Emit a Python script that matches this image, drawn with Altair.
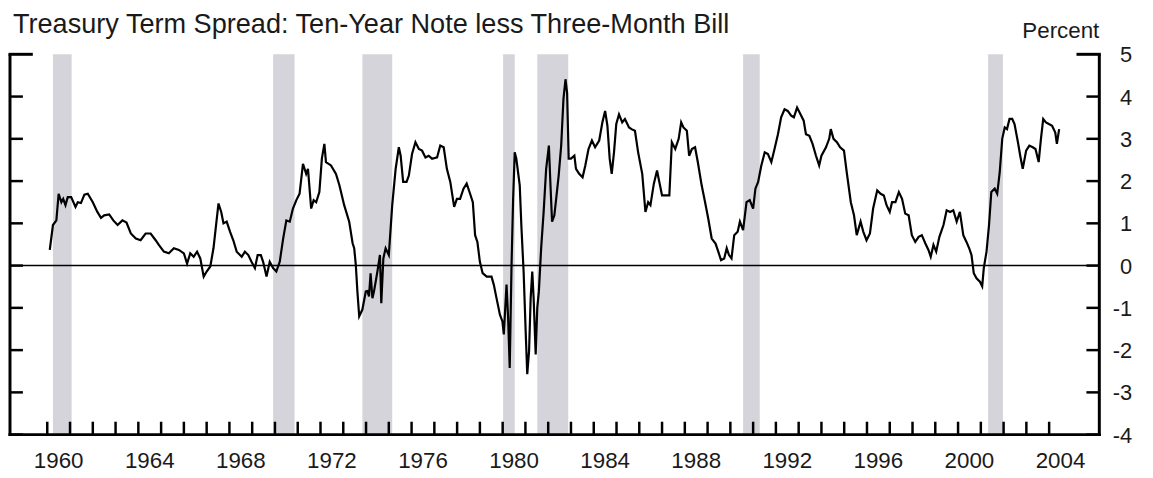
import altair as alt
import pandas as pd

title_text = "Treasury Term Spread: Ten-Year Note less Three-Month Bill"
unit_label = "Percent"

# decimal-year dates and spread values (percent)
dates = [
    1960.11, 1960.25, 1960.40, 1960.50, 1960.62, 1960.70, 1960.80, 1960.90, 1961.05, 1961.24,
    1961.34, 1961.48, 1961.63, 1961.78, 1962.00, 1962.20, 1962.36, 1962.50, 1962.72, 1962.90,
    1963.09, 1963.30, 1963.48, 1963.67, 1963.89, 1964.10, 1964.32, 1964.54, 1964.76, 1964.90,
    1965.12, 1965.34, 1965.56, 1965.78, 1966.00, 1966.14, 1966.28, 1966.43, 1966.58, 1966.72,
    1966.87, 1967.00, 1967.16, 1967.30, 1967.52, 1967.64, 1967.74, 1967.88, 1968.03, 1968.17,
    1968.32, 1968.54, 1968.68, 1968.83, 1968.97, 1969.12, 1969.24, 1969.38, 1969.48, 1969.63,
    1969.77, 1969.92, 1970.06, 1970.21, 1970.36, 1970.50, 1970.65, 1970.79, 1970.94, 1971.08,
    1971.23, 1971.37, 1971.45, 1971.59, 1971.70, 1971.81, 1971.95, 1972.06, 1972.17, 1972.24,
    1972.46, 1972.68, 1972.83, 1973.04, 1973.26, 1973.41, 1973.48, 1973.55, 1973.62, 1973.70,
    1973.84, 1973.99, 1974.06, 1974.13, 1974.20, 1974.28, 1974.35, 1974.50, 1974.61, 1974.67,
    1974.76, 1974.86, 1975.00, 1975.15, 1975.30, 1975.44, 1975.52, 1975.63, 1975.78, 1975.88,
    1976.02, 1976.17, 1976.32, 1976.46, 1976.61, 1976.75, 1976.90, 1977.12, 1977.26, 1977.41,
    1977.55, 1977.70, 1977.87, 1977.99, 1978.13, 1978.28, 1978.42, 1978.57, 1978.69, 1978.79,
    1978.89, 1979.00, 1979.12, 1979.30, 1979.51, 1979.61, 1979.73, 1979.88, 1979.99, 1980.05,
    1980.17, 1980.24, 1980.31, 1980.39, 1980.46, 1980.53, 1980.60, 1980.75, 1980.82, 1980.92,
    1981.01, 1981.08, 1981.16, 1981.23, 1981.30, 1981.36, 1981.45, 1981.52, 1981.59, 1981.69,
    1981.80, 1981.91, 1982.03, 1982.10, 1982.17, 1982.27, 1982.35, 1982.46, 1982.57, 1982.67,
    1982.76, 1982.83, 1982.90, 1983.00, 1983.15, 1983.22, 1983.36, 1983.51, 1983.63, 1983.77,
    1983.92, 1984.06, 1984.24, 1984.38, 1984.50, 1984.60, 1984.70, 1984.79, 1984.89, 1984.99,
    1985.11, 1985.25, 1985.37, 1985.55, 1985.66, 1985.81, 1985.95, 1986.13, 1986.27, 1986.39,
    1986.49, 1986.64, 1986.78, 1986.88, 1987.00, 1987.14, 1987.32, 1987.43, 1987.58, 1987.73,
    1987.84, 1987.94, 1988.09, 1988.19, 1988.31, 1988.45, 1988.57, 1988.74, 1988.89, 1989.03,
    1989.18, 1989.35, 1989.47, 1989.59, 1989.73, 1989.84, 1989.94, 1990.05, 1990.17, 1990.32,
    1990.42, 1990.56, 1990.71, 1990.85, 1991.00, 1991.10, 1991.22, 1991.36, 1991.51, 1991.65,
    1991.80, 1991.94, 1992.09, 1992.23, 1992.38, 1992.52, 1992.67, 1992.79, 1992.93, 1993.08,
    1993.22, 1993.32, 1993.47, 1993.61, 1993.76, 1993.90, 1994.00, 1994.20, 1994.34, 1994.41,
    1994.53, 1994.68, 1994.82, 1994.99, 1995.11, 1995.29, 1995.43, 1995.55, 1995.72, 1995.84,
    1995.98, 1996.13, 1996.27, 1996.45, 1996.60, 1996.74, 1996.86, 1997.00, 1997.10, 1997.25,
    1997.40, 1997.54, 1997.68, 1997.83, 1997.97, 1998.12, 1998.27, 1998.41, 1998.56, 1998.70,
    1998.80, 1998.92, 1999.04, 1999.18, 1999.36, 1999.50, 1999.65, 1999.79, 1999.94, 2000.08,
    2000.23, 2000.37, 2000.49, 2000.59, 2000.69, 2000.81, 2000.96, 2001.06, 2001.13, 2001.25,
    2001.36, 2001.46, 2001.61, 2001.72, 2001.83, 2001.94, 2002.05, 2002.15, 2002.26, 2002.38,
    2002.48, 2002.63, 2002.73, 2002.84, 2002.99, 2003.13, 2003.28, 2003.40, 2003.54, 2003.64,
    2003.74, 2003.86, 2003.99, 2004.13, 2004.27, 2004.34, 2004.44,
]
spread = [
    0.37, 0.96, 1.07, 1.70, 1.50, 1.58, 1.43, 1.62, 1.62, 1.39,
    1.50, 1.48, 1.68, 1.70, 1.50, 1.27, 1.13, 1.19, 1.21, 1.07,
    0.96, 1.07, 1.02, 0.76, 0.64, 0.60, 0.76, 0.76, 0.60, 0.49,
    0.33, 0.29, 0.41, 0.37, 0.29, 0.05, 0.29, 0.21, 0.33, 0.17,
    -0.26, -0.14, -0.02, 0.41, 1.47, 1.27, 1.00, 1.04, 0.80, 0.60,
    0.33, 0.21, 0.33, 0.25, 0.09, -0.06, 0.25, 0.25, 0.09, -0.26,
    0.09, -0.06, -0.14, 0.09, 0.64, 1.07, 1.04, 1.35, 1.55, 1.70,
    2.41, 2.17, 2.29, 1.35, 1.55, 1.50, 1.74, 2.53, 2.88, 2.45,
    2.37, 2.17, 1.90, 1.43, 1.04, 0.53, 0.41, 0.02, -0.61, -1.20,
    -1.04, -0.61, -0.60, -0.73, -0.18, -0.77, -0.61, -0.14, 0.25, -0.89,
    0.17, 0.41, 0.25, 1.43, 2.29, 2.80, 2.60, 1.98, 1.98, 2.13,
    2.64, 2.92, 2.76, 2.72, 2.56, 2.60, 2.53, 2.56, 2.84, 2.80,
    2.29, 1.98, 1.39, 1.58, 1.58, 1.82, 1.94, 1.70, 1.50, 0.72,
    0.56, 0.09, -0.18, -0.26, -0.26, -0.45, -0.77, -1.16, -1.32, -1.63,
    -0.45, -1.24, -2.42, 0.02, 1.58, 2.68, 2.53, 1.90, 0.96, -0.14,
    -1.55, -2.57, -2.02, -0.77, -0.14, -0.77, -2.10, -1.00, -0.61, 0.41,
    1.27, 2.29, 2.84, 1.90, 1.04, 1.19, 1.58, 2.13, 2.84, 3.94,
    4.41, 4.09, 2.53, 2.53, 2.60, 2.29, 2.17, 2.09, 2.37, 2.76,
    2.96, 2.80, 2.96, 3.39, 3.66, 3.31, 2.53, 2.17, 2.68, 3.35,
    3.58, 3.39, 3.47, 3.27, 3.23, 3.19, 2.68, 2.17, 1.27, 1.50,
    1.43, 1.94, 2.25, 1.98, 1.66, 1.66, 1.66, 2.92, 2.76, 3.00,
    3.39, 3.27, 3.19, 2.60, 2.76, 2.80, 2.45, 1.90, 1.50, 1.11,
    0.64, 0.52, 0.33, 0.13, 0.17, 0.41, 0.25, 0.17, 0.72, 0.80,
    1.04, 0.84, 1.50, 1.55, 1.35, 1.82, 1.98, 2.37, 2.68, 2.64,
    2.45, 2.76, 3.11, 3.51, 3.70, 3.66, 3.55, 3.51, 3.74, 3.58,
    3.43, 3.11, 3.07, 2.88, 2.60, 2.37, 2.60, 2.80, 3.00, 3.23,
    3.00, 2.92, 2.80, 2.72, 2.21, 1.50, 1.19, 0.72, 1.04, 0.80,
    0.60, 0.76, 1.35, 1.78, 1.70, 1.66, 1.43, 1.27, 1.50, 1.50,
    1.74, 1.58, 1.23, 1.19, 0.72, 0.56, 0.68, 0.72, 0.53, 0.37,
    0.21, 0.49, 0.33, 0.68, 0.96, 1.31, 1.27, 1.31, 1.04, 1.27,
    0.72, 0.56, 0.41, 0.25, -0.18, -0.30, -0.38, -0.49, -0.06, 0.33,
    0.96, 1.74, 1.82, 1.70, 2.21, 3.00, 3.27, 3.23, 3.47, 3.47,
    3.35, 2.92, 2.60, 2.29, 2.72, 2.84, 2.80, 2.76, 2.45, 3.00,
    3.47, 3.39, 3.35, 3.31, 3.15, 2.88, 3.23,
]

# recession periods (decimal years)
rec_start = [1960.25, 1969.92, 1973.84, 1980.02, 1981.52, 1990.56, 2001.32]
rec_end = [1961.07, 1970.86, 1975.15, 1980.53, 1982.88, 1991.29, 2001.97]

year_ticks = list(range(1960, 2005))
label_years = list(range(1960, 2005, 4))
y_ticks = list(range(-4, 6))

W, H = 1097, 383
FONT = "Liberation Sans"
TXT = "#1a1a1a"

xs = alt.Scale(domain=[1958.363, 2006.204], nice=False, zero=False)
ys = alt.Scale(domain=[-4, 5], nice=False, zero=False)

series = pd.DataFrame({"t": dates, "v": spread})
rec = pd.DataFrame({"start": rec_start, "end": rec_end})
yt = pd.DataFrame({"v": y_ticks, "lab": [str(v) for v in y_ticks]})
yt_inner = yt[yt["v"] < max(y_ticks)]
yt_top = yt[yt["v"] == max(y_ticks)]
xt = pd.DataFrame({"yr": year_ticks})
xl = pd.DataFrame({"yr": label_years, "lab": [str(y) for y in label_years]})

bands = alt.Chart(rec).mark_rect(color="#d4d4da").encode(
    x=alt.X("start:Q", scale=xs, axis=None), x2="end:Q",
    y=alt.value(0), y2=alt.value(H))

zero = alt.Chart(pd.DataFrame({"v": [0]})).mark_rule(color="black", strokeWidth=1.5).encode(
    y=alt.Y("v:Q", scale=ys, axis=None), x=alt.value(0), x2=alt.value(W))

line = alt.Chart(series).mark_line(color="black", strokeWidth=2.2).encode(
    x=alt.X("t:Q", scale=xs, axis=None), y=alt.Y("v:Q", scale=ys, axis=None))

frame_l = alt.Chart(yt_top).mark_rule(color="black", strokeWidth=3).encode(
    x=alt.value(0), y=alt.Y("v:Q", scale=ys, axis=None), y2=alt.value(H + 1.5))
frame_r = alt.Chart(yt_top).mark_rule(color="black", strokeWidth=3).encode(
    x=alt.value(W), y=alt.Y("v:Q", scale=ys, axis=None), y2=alt.value(H + 1.5))
frame_b = alt.Chart(pd.DataFrame({"v": [min(y_ticks)]})).mark_rule(color="black", strokeWidth=3).encode(
    y=alt.value(H), x=alt.value(-1.5), x2=alt.value(W + 1.5))

xticks = alt.Chart(xt).mark_rule(color="black", strokeWidth=2.5).encode(
    x=alt.X("yr:Q", scale=xs, axis=None), y=alt.value(H), y2=alt.value(H - 13))

lt = alt.Chart(yt_inner).mark_rule(color="black", strokeWidth=2.5).encode(
    y=alt.Y("v:Q", scale=ys, axis=None), x=alt.value(0), x2=alt.value(13))
lt_top = alt.Chart(yt_top).mark_rule(color="black", strokeWidth=3).encode(
    y=alt.Y("v:Q", scale=ys, axis=None), x=alt.value(-1.5), x2=alt.value(23))
rt = alt.Chart(yt_inner).mark_rule(color="black", strokeWidth=2.5).encode(
    y=alt.Y("v:Q", scale=ys, axis=None), x=alt.value(W - 13), x2=alt.value(W))
rt_top = alt.Chart(yt_top).mark_rule(color="black", strokeWidth=3).encode(
    y=alt.Y("v:Q", scale=ys, axis=None), x=alt.value(W - 23), x2=alt.value(W + 1.5))

xlabels = alt.Chart(xl).transform_calculate(pos="datum.yr + 0.5").mark_text(
    font=FONT, fontSize=22.5, color=TXT, align="center", baseline="alphabetic").encode(
    x=alt.X("pos:Q", scale=xs, axis=None), y=alt.value(H + 34), text="lab:N")

ylabels = alt.Chart(yt).mark_text(
    font=FONT, fontSize=22, color=TXT, align="right", baseline="middle", dy=1).encode(
    y=alt.Y("v:Q", scale=ys, axis=None), x=alt.value(W + 33), text="lab:N")

unit = alt.Chart(pd.DataFrame({"s": [unit_label]})).mark_text(
    font=FONT, fontSize=22.5, color=TXT, align="right", baseline="alphabetic").encode(
    x=alt.value(W), y=alt.value(-16), text="s:N")

title = alt.Chart(pd.DataFrame({"s": [title_text]})).mark_text(
    font=FONT, fontSize=27.3, color=TXT, align="left", baseline="alphabetic").encode(
    x=alt.value(3), y=alt.value(-21), text="s:N")

chart = alt.layer(
    bands, zero, line, frame_l, frame_r, frame_b, xticks, lt, lt_top, rt, rt_top,
    xlabels, ylabels, unit, title
).properties(
    width=W, height=H,
    autosize=alt.AutoSizeParams(type="none"),
    padding={"left": 2, "top": 45, "right": 46, "bottom": 37},
    background="white",
).configure_view(stroke=None)

chart.save("out.html", embed_options={"renderer": "svg", "actions": False})
